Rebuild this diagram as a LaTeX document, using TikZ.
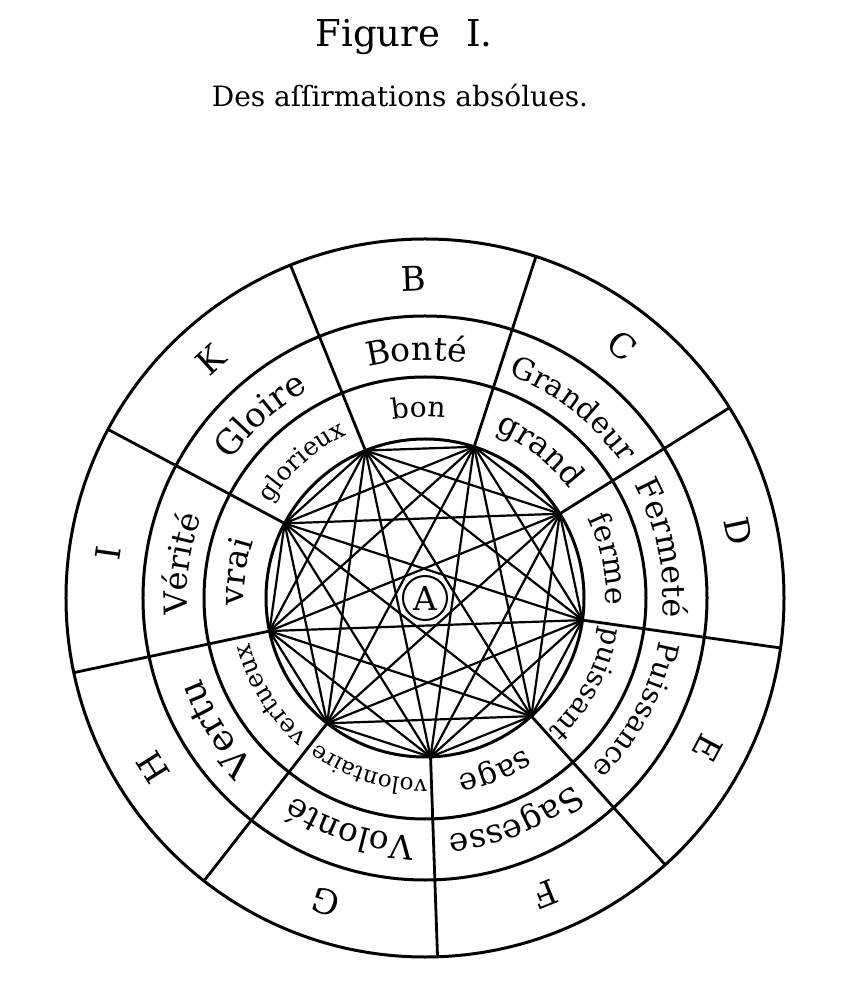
\documentclass[tikz,border=0pt]{standalone}
\usepackage{fontspec}
\setmainfont{DejaVu Serif}
\usetikzlibrary{decorations.text}

\begin{document}
\begin{tikzpicture}[
        x=1pt, y=1pt,
        ring/.style={line width=3pt},
        spoke/.style={line width=2.8pt},
        chord/.style={line width=2.2pt},
        letter node/.style={font=\fontsize{34}{34}\selectfont, inner sep=0pt},
        title node/.style={inner sep=0pt, anchor=base},
    ]
    \newcommand*{\OuterRadius}{359}
    \newcommand*{\LetterRadius}{282}
    \newcommand*{\NounRadius}{221}
    \newcommand*{\InnerRadius}{159}

    \coordinate (M) at (0, 0);
    \useasboundingbox (-425, -402) rectangle (424, 598);

    % Title lines
    \node[title node, font=\fontsize{37}{37}\selectfont] (title) at (-21, 551)
        {Figure\hspace{0.7em}I.};
    \node[title node, font=\fontsize{28}{28}\selectfont] (subtitle) at (-25, 491)
        {Des aſſirmations absólues.};

    % The four rings
    \foreach \r in {\OuterRadius, \LetterRadius, \NounRadius, \InnerRadius}
        \draw[ring] (M) circle[radius=\r];

    % Corners of the nonagon and the spokes going out of them
    \foreach \i in {1, ..., 9} {
            \pgfmathsetmacro\Angle{112 - 40*(\i-1)}
            \coordinate (v\i) at (\Angle:\InnerRadius);
            \coordinate (o\i) at (\Angle:\OuterRadius);
            \draw[spoke] (v\i) -- (o\i);
        }
    % every corner joined to every other one
    \foreach \i in {1, ..., 8} {
            \pgfmathtruncatemacro\Next{\i + 1}
            \foreach \j in {\Next, ..., 9}
                \draw[chord] (v\i) -- (v\j);
        }
    \node[draw, circle, fill=white, minimum size=44pt, inner sep=0pt,
        line width=2pt, font=\fontsize{33}{33}\selectfont] (A) at (M) {A};

    % Letter, noun and adjective of each sector
    % (the words run clockwise, tops of the letters outwards)
    \foreach \letter/\noun/\nsize/\adj/\asize [count=\i] in {
            B/Bonté/33/bon/28,
            C/Grandeur/30/grand/32,
            D/Fermeté/32/ferme/30,
            E/Puissance/29/puissant/28,
            F/Sagesse/33/sage/31,
            G/Volonté/33/volontaire/23,
            H/Vertu/36/vertueux/25,
            I/Vérité/32/vrai/33,
            K/Gloire/34/glorieux/25%
        } {
            \pgfmathsetmacro\Mid{92 - 40*(\i-1)}
            \pgfmathsetmacro\From{\Mid + 45}
            \pgfmathsetmacro\To{\Mid - 45}
            \node[letter node, rotate=\Mid-90] (l\i) at (\Mid:320) {\letter};
            \path[decorate, decoration={text along path, text align=center,
                        text/.expanded={|\noexpand\fontsize{\nsize}{\nsize}\noexpand\selectfont|\noun}}]
            (\From:238) arc[start angle=\From, end angle=\To, radius=238];
            \path[decorate, decoration={text along path, text align=center,
                        text/.expanded={|\noexpand\fontsize{\asize}{\asize}\noexpand\selectfont|\adj}}]
            (\From:181) arc[start angle=\From, end angle=\To, radius=181];
        }
\end{tikzpicture}
\end{document}
